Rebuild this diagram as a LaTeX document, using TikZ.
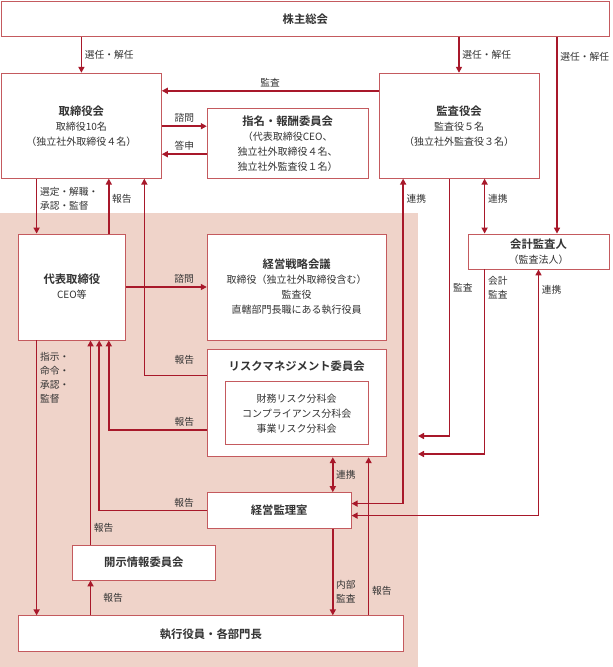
\documentclass[tikz,border=0pt]{standalone}
\usepackage{fontspec}
\setmainfont{Noto Sans CJK JP}[BoldFont={Noto Sans CJK JP Bold}]
\usepackage{xcolor}
\usepackage{tikz}
\usetikzlibrary{arrows.meta, positioning, backgrounds}
\definecolor{linered}{HTML}{A8182A}
\definecolor{boxred}{HTML}{C45A5E}
\definecolor{zonebg}{HTML}{EFD3C9}
\definecolor{ink}{HTML}{333333}
\newcommand{\hd}[1]{{\fontsize{8.5}{11.25}\selectfont\bfseries #1}}

\begin{document}
\begin{tikzpicture}[
  box/.style={draw=boxred, fill=white, line width=0.6pt, inner sep=0pt,
              font=\fontsize{7.5}{11.25}\selectfont, text=ink, align=center},
  hdtext/.style={font=\fontsize{8.5}{11.25}\selectfont\bfseries, text=ink, inner sep=0pt},
  lbl/.style={font=\fontsize{7.3}{10.5}\selectfont, text=ink, inner sep=2pt, align=left},
  arr/.style={-{Triangle[length=4.5pt, width=4.5pt]}, draw=linered, line width=1.15pt},
  arrs/.style={{Triangle[length=4.5pt, width=4.5pt]}-{Triangle[length=4.5pt, width=4.5pt]},
               draw=linered, line width=1.15pt}
]
  \useasboundingbox (0,0) rectangle (459.75pt,-500.25pt);

  % Shareholders and governance bodies
  \node[box, anchor=north west, minimum width=456pt, minimum height=26.25pt]
    (gm) at (0.75pt,-0.75pt) {\hd{株主総会}};
  \node[box, below=27pt of gm.south west, anchor=north west,
        minimum width=120pt, minimum height=78.75pt]
    (board) {\hd{取締役会}\\取締役10名\\（独立社外取締役４名）};
  \node[box, right=33.75pt of board.south east, anchor=south west,
        minimum width=120.75pt, minimum height=52.5pt]
    (nomcom) {\hd{指名・報酬委員会}\\（代表取締役CEO、\\独立社外取締役４名、\\独立社外監査役１名）};
  \node[box, right=7.5pt of nomcom.south east, anchor=south west,
        minimum width=120pt, minimum height=78.75pt]
    (kansa) {\hd{監査役会}\\監査役５名\\（独立社外監査役３名）};

  % Executive zone
  \begin{scope}[on background layer]
    \node[fill=zonebg, anchor=north west, inner sep=0pt, outer sep=0pt,
          minimum width=313.5pt, minimum height=340.5pt] (zone) at (0,-159.75pt) {};
  \end{scope}

  \node[box, below=41.25pt of board.south west, anchor=north west, xshift=12.75pt,
        minimum width=80.25pt, minimum height=79.5pt]
    (ceo) {\hd{代表取締役}\\CEO等};
  \node[box, right=60.75pt of ceo.north east, anchor=north west,
        minimum width=134.25pt, minimum height=79.5pt]
    (strategy) {\hd{経営戦略会議}\\取締役（独立社外取締役含む）\\監査役\\直轄部門長職にある執行役員};
  \node[box, below=6.75pt of strategy.south west, anchor=north west,
        minimum width=134.25pt, minimum height=80.25pt] (risk) {};
  \node[hdtext] (risktitle) at ([yshift=-12.75pt]risk.north) {リスクマネジメント委員会};
  \node[box, below=24pt of risk.north, minimum width=107.25pt, minimum height=47.25pt]
    (riskunits) {財務リスク分科会\\コンプライアンス分科会\\事業リスク分科会};
  \node[box, below=26.25pt of risk.south west, anchor=north west,
        minimum width=108pt, minimum height=27pt] (iao) {\hd{経営監理室}};
  \node[box, below=206.25pt of ceo.south west, anchor=north west,
        minimum width=288.75pt, minimum height=27pt] (exec) {\hd{執行役員・各部門長}};
  \node[box, above=26.25pt of exec.north west, anchor=south west, xshift=40.5pt,
        minimum width=107.25pt, minimum height=26.25pt] (disclosure) {\hd{開示情報委員会}};
  \node[box, right=60.75pt of strategy.north east, anchor=north west,
        minimum width=105.75pt, minimum height=26.25pt]
    (audfirm) {\hd{会計監査人}\\（監査法人）};

  % Appointment and audit
  \draw[arr] (board.north |- gm.south) -- (board.north)
    node[lbl, midway, right] {選任・解任};
  \draw[arr] (kansa.north |- gm.south) -- (kansa.north)
    node[lbl, midway, right] {選任・解任};
  \draw[arr] ([xshift=13.875pt]audfirm.north |- gm.south) -- ([xshift=13.875pt]audfirm.north)
    node[lbl, pos=0.1, right] {選任・解任};
  \draw[arr] ([yshift=-13.5pt]kansa.north west) -- ([yshift=-13.5pt]board.north east)
    node[lbl, midway, above] {監査};
  \draw[arr] ([yshift=12.75pt]board.east |- nomcom.west) -- ([yshift=12.75pt]nomcom.west)
    node[lbl, midway, above] {諮問};
  \draw[arr] ([yshift=-8.25pt]nomcom.west) -- ([yshift=-8.25pt]board.east |- nomcom.west)
    node[lbl, midway, above] {答申};

  % Board and CEO
  \draw[arr] ([xshift=13.95pt]ceo.north west |- board.south) -- ([xshift=13.95pt]ceo.north west)
    node[lbl, pos=0.36, right] {選定・解職・\\承認・監督};
  \draw[arr] ([xshift=-12.75pt]ceo.north east) -- ([xshift=-12.75pt]ceo.north east |- board.south)
    node[lbl, pos=0.64, right] {報告};
  \draw[arr] ([yshift=-19.5pt]risk.north west) -| ([xshift=-13.1pt]board.south east)
    node[lbl, pos=0.18, above, yshift=6pt] {報告};
  \draw[arr] (ceo.east) -- (strategy.west |- ceo.east)
    node[lbl, pos=0.72, above] {諮問};

  % Reports to the CEO
  \draw[arr] ([yshift=-19.9pt]risk.west) -| ([xshift=-12.75pt]ceo.south east)
    node[lbl, pos=0.115, above] {報告};
  \draw[arr] (iao.west) -| ([xshift=-19.95pt]ceo.south east)
    node[lbl, pos=0.105, above] {報告};
  \draw[arr] ([xshift=13.9pt]disclosure.north west) -- ([xshift=13.9pt]disclosure.north west |- ceo.south)
    node[lbl, pos=0.08, right] {報告};
  \draw[arr] ([xshift=13.9pt]disclosure.south west |- exec.north) -- ([xshift=13.9pt]disclosure.south west)
    node[lbl, midway, right, xshift=7pt] {報告};
  \draw[arr] ([xshift=13.95pt]ceo.south west) -- ([xshift=13.95pt]ceo.south west |- exec.north)
    node[lbl, pos=0.136, right] {指示・\\命令・\\承認・\\監督};

  % Internal audit
  \draw[arrs] ([xshift=94.5pt]risk.south west) -- ([xshift=94.5pt]risk.south west |- iao.north)
    node[lbl, midway, right] {連携};
  \draw[arr] ([xshift=94.5pt]iao.south west) -- ([xshift=94.5pt]iao.south west |- exec.north)
    node[lbl, pos=0.73, right] {内部\\監査};
  \draw[arr] ([xshift=-13.5pt]risk.south east |- exec.north) -- ([xshift=-13.5pt]risk.south east)
    node[lbl, pos=0.157, right] {報告};

  % Auditors
  \draw[arrs] ([yshift=5.25pt]iao.east) -| ([xshift=18.4pt]kansa.south west)
    node[lbl, pos=0.969, right] {連携};
  \draw[arr] ([xshift=53.25pt]kansa.south west) |- ([yshift=-167.25pt]zone.north east)
    node[lbl, pos=0.212, right] {監査};
  \draw[arrs] ([xshift=79.5pt]kansa.south west) -- ([xshift=79.5pt]kansa.south west |- audfirm.north)
    node[lbl, pos=0.36, right] {連携};
  \draw[arr] ([xshift=12.75pt]audfirm.south west) |- ([yshift=-180.75pt]zone.north east)
    node[lbl, pos=0.05, right] {会計\\監査};
  \draw[arrs] ([yshift=-3.75pt]iao.east) -| (audfirm.south)
    node[lbl, pos=0.959, right] {連携};
\end{tikzpicture}
\end{document}
